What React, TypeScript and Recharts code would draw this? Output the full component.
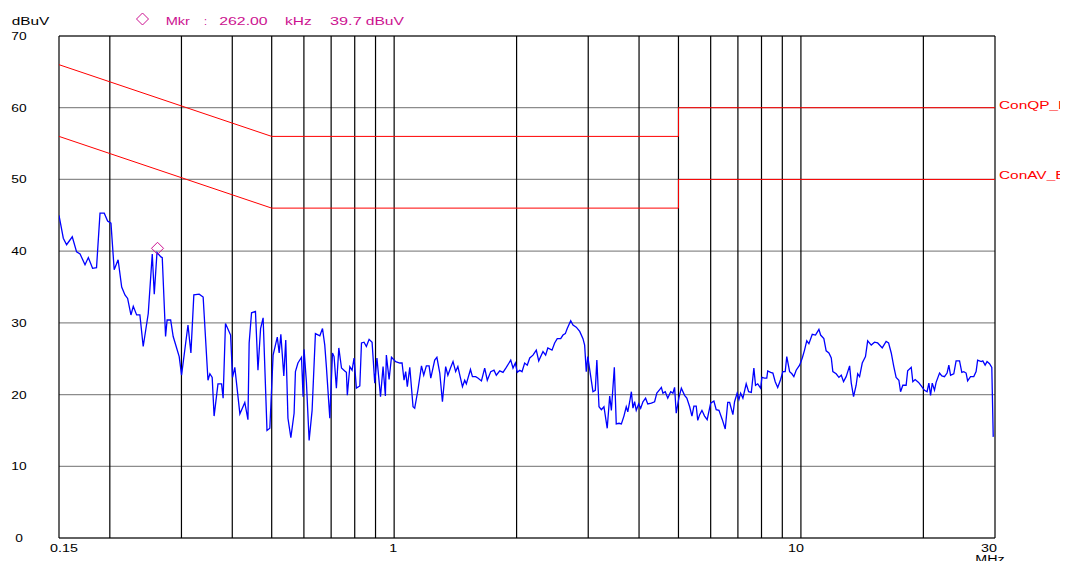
import React from 'react';
import { LineChart, Line, XAxis, YAxis, CartesianGrid, ReferenceLine, ReferenceDot } from 'recharts';

const freqMHz = [
  0.1500, 0.1537, 0.1566, 0.1617, 0.1657, 0.1690, 0.1738, 0.1771, 0.1814, 0.1855,
  0.1892, 0.1938, 0.1975, 0.2013, 0.2050, 0.2096, 0.2139, 0.2179, 0.2212, 0.2254,
  0.2284, 0.2328, 0.2371, 0.2416, 0.2486, 0.2543, 0.2572, 0.2612, 0.2671, 0.2691,
  0.2742, 0.2766, 0.2822, 0.2863, 0.2962, 0.3002, 0.3113, 0.3165, 0.3218, 0.3317,
  0.3392, 0.3486, 0.3524, 0.3570, 0.3609, 0.3689, 0.3765, 0.3798, 0.3849, 0.3962,
  0.4006, 0.4058, 0.4176, 0.4294, 0.4371, 0.4401, 0.4461, 0.4561, 0.4626, 0.4695,
  0.4763, 0.4869, 0.4948, 0.5040, 0.5161, 0.5216, 0.5266, 0.5355, 0.5414, 0.5482,
  0.5573, 0.5676, 0.5719, 0.5801, 0.5919, 0.5972, 0.6005, 0.6085, 0.6180, 0.6285,
  0.6404, 0.6566, 0.6666, 0.6752, 0.6814, 0.6948, 0.7054, 0.7117, 0.7211, 0.7311,
  0.7423, 0.7560, 0.7631, 0.7672, 0.7781, 0.7882, 0.7970, 0.8075, 0.8234, 0.8312,
  0.8433, 0.8545, 0.8679, 0.8826, 0.8960, 0.9072, 0.9257, 0.9392, 0.9516, 0.9569,
  0.9718, 0.9850, 1.0088, 1.0325, 1.0459, 1.0576, 1.0676, 1.0774, 1.0926, 1.1129,
  1.1234, 1.1438, 1.1673, 1.1823, 1.2000, 1.2187, 1.2305, 1.2581, 1.2739, 1.2947,
  1.3144, 1.3386, 1.3554, 1.3756, 1.3956, 1.4166, 1.4343, 1.4720, 1.4909, 1.5047,
  1.5404, 1.5576, 1.5863, 1.6061, 1.6391, 1.6695, 1.6942, 1.7279, 1.7598, 1.7831,
  1.8181, 1.8519, 1.8868, 1.9349, 1.9598, 1.9858, 2.0076, 2.0359, 2.0623, 2.0934,
  2.1244, 2.1545, 2.1946, 2.2359, 2.2670, 2.3223, 2.3572, 2.3867, 2.4438, 2.4807,
  2.5174, 2.5675, 2.6005, 2.6351, 2.6640, 2.7169, 2.7518, 2.8037, 2.8589, 2.9121,
  2.9397, 2.9669, 2.9928, 3.0816, 3.1225, 3.1502, 3.1887, 3.2320, 3.2791, 3.3406,
  3.3878, 3.4201, 3.4778, 3.5158, 3.5708, 3.6192, 3.6720, 3.7205, 3.7529, 3.7937,
  3.8299, 3.8642, 3.9008, 3.9370, 3.9917, 4.0372, 4.0891, 4.1506, 4.2025, 4.2887,
  4.3681, 4.4235, 4.4955, 4.5384, 4.5791, 4.6399, 4.7060, 4.7841, 4.8456, 4.8915,
  4.9369, 5.0141, 5.0822, 5.1763, 5.2419, 5.3272, 5.3961, 5.4564, 5.5285, 5.5767,
  5.6373, 5.7101, 5.7964, 5.8822, 5.9992, 6.1101, 6.1908, 6.2876, 6.4087, 6.5154,
  6.6083, 6.6802, 6.8044, 6.8688, 6.9704, 7.0410, 7.1091, 7.2005, 7.3362, 7.4381,
  7.5519, 7.6620, 7.7341, 7.8308, 7.9608, 8.0183, 8.1395, 8.2426, 8.2867, 8.4243,
  8.5325, 8.6458, 8.7691, 8.9147, 9.0293, 9.1491, 9.2302, 9.3805, 9.5017, 9.6081,
  9.7349, 9.9265, 10.077, 10.207, 10.336, 10.463, 10.664, 10.861, 11.072, 11.179,
  11.386, 11.536, 11.716, 11.875, 11.981, 12.207, 12.398, 12.566, 12.729, 12.918,
  13.173, 13.298, 13.470, 13.670, 13.790, 13.939, 14.151, 14.412, 14.592, 14.891,
  15.167, 15.441, 15.847, 16.199, 16.424, 16.675, 16.918, 17.142, 17.410, 17.578,
  17.804, 18.140, 18.298, 18.673, 18.841, 19.091, 19.463, 19.761, 20.127, 20.425,
  20.631, 20.831, 21.029, 21.298, 21.496, 21.919, 22.203, 22.538, 22.872, 23.102,
  23.326, 23.757, 24.071, 24.545, 24.862, 25.141, 25.473, 25.695, 26.121, 26.604,
  26.956, 27.191, 27.748, 27.997, 28.369, 28.680, 29.086, 29.462, 29.700,
];

const levelDbuv = [
  45.0, 41.8, 40.9, 42.0, 39.9, 39.6, 38.1, 39.1, 37.6, 37.7,
  45.3, 45.3, 44.2, 43.9, 37.4, 38.8, 35.0, 33.9, 33.4, 31.1,
  32.3, 31.1, 31.1, 26.7, 31.3, 39.6, 34.0, 39.8, 39.2, 39.1,
  28.1, 30.4, 30.4, 28.1, 25.3, 22.7, 29.7, 25.8, 33.9, 34.0,
  33.6, 22.0, 22.9, 22.4, 17.0, 21.5, 21.5, 19.5, 29.9, 28.3,
  22.4, 23.8, 17.3, 18.9, 16.5, 27.2, 31.4, 31.6, 23.4, 29.2,
  30.7, 15.0, 15.3, 25.5, 28.0, 25.8, 28.4, 22.6, 27.6, 16.7,
  14.0, 17.4, 23.2, 24.4, 25.2, 19.7, 26.3, 21.8, 13.6, 17.8,
  28.5, 28.2, 29.2, 26.9, 23.9, 16.7, 25.8, 25.3, 20.9, 26.5,
  23.7, 23.3, 23.1, 19.9, 23.9, 23.4, 25.1, 20.9, 21.2, 27.2,
  27.3, 26.7, 27.7, 27.3, 21.6, 25.1, 19.7, 23.9, 19.8, 25.5,
  22.1, 25.2, 24.6, 24.4, 24.4, 22.0, 23.2, 21.1, 23.8, 18.3,
  18.1, 20.6, 24.0, 22.7, 24.0, 24.0, 22.3, 24.8, 25.2, 23.0,
  19.0, 23.9, 22.7, 23.7, 24.6, 23.2, 23.9, 21.1, 22.0, 21.5,
  23.5, 22.5, 22.5, 22.3, 21.9, 23.7, 22.0, 23.2, 23.4, 22.7,
  23.3, 23.1, 23.8, 24.8, 23.7, 24.4, 23.1, 23.4, 23.2, 24.4,
  24.1, 25.1, 25.5, 26.2, 24.7, 26.0, 25.5, 26.5, 26.2, 27.2,
  27.8, 27.8, 28.3, 28.5, 29.2, 30.3, 29.7, 29.4, 28.8, 27.8,
  26.9, 23.2, 25.3, 20.4, 20.6, 24.8, 18.3, 17.9, 18.3, 15.3,
  19.8, 17.8, 23.8, 15.9, 16.0, 15.9, 17.0, 18.3, 17.6, 19.0,
  20.4, 18.1, 19.0, 17.8, 18.7, 18.1, 19.0, 19.5, 18.7, 18.8,
  19.0, 20.2, 20.7, 21.0, 20.2, 20.4, 19.5, 20.4, 20.2, 21.0,
  17.4, 19.6, 20.9, 19.9, 19.5, 18.3, 17.0, 18.4, 18.4, 16.4,
  17.2, 17.8, 17.0, 16.5, 18.8, 19.1, 17.9, 17.8, 16.5, 15.2,
  18.9, 18.9, 17.2, 19.0, 20.2, 19.3, 20.2, 19.5, 21.5, 20.4,
  20.3, 23.7, 21.3, 21.5, 20.9, 22.4, 22.3, 22.3, 23.3, 23.1,
  23.0, 21.8, 21.0, 22.1, 23.2, 23.2, 25.3, 23.2, 22.9, 22.5,
  23.4, 24.1, 25.1, 26.2, 27.5, 27.1, 28.4, 28.3, 29.1, 28.3,
  27.8, 26.1, 25.8, 25.1, 23.2, 22.9, 22.4, 22.7, 21.8, 22.5,
  24.0, 21.6, 19.7, 21.3, 22.9, 22.5, 24.4, 25.3, 27.5, 26.9,
  27.3, 27.2, 26.5, 27.4, 27.2, 25.8, 23.9, 22.4, 22.0, 20.4,
  21.3, 21.3, 23.3, 23.8, 21.8, 22.1, 21.7, 21.2, 20.6, 20.4,
  21.6, 19.9, 21.6, 20.6, 21.7, 23.0, 22.6, 22.5, 23.0, 24.1,
  22.7, 22.9, 24.7, 24.7, 23.1, 23.2, 23.0, 21.9, 22.5, 22.5,
  23.2, 24.8, 24.6, 24.7, 24.1, 24.6, 24.3, 23.8, 14.1,
];

const qpFreq = [0.15, 0.5, 5, 5, 30];
const qpLimit = [66, 56, 56, 60, 60];
const avFreq = [0.15, 0.5, 5, 5, 30];
const avLimit = [56, 46, 46, 50, 50];

const gridFreqs = [0.15, 0.2, 0.3, 0.4, 0.5, 0.6, 0.7, 0.8, 0.9, 1, 2, 3, 4, 5, 6, 7, 8, 9, 10, 20, 30];
const xLabelValues = [0.15, 1, 10, 30];
const xLabelTexts = ['0.15', '1', '10', '30'];
const yTicks = [0, 10, 20, 30, 40, 50, 60, 70];

const markerFreq = 0.262;
const markerLevel = 39.7;
const markerText = ['Mkr', ':', '262.00', 'kHz', '39.7', 'dBuV'];
const limitNames = ['ConQP_B', 'ConAV_B'];
const yUnit = 'dBuV';
const xUnit = 'MHz';

const traceData = freqMHz.map((f, i) => ({ f, v: levelDbuv[i] }));
const qpData = qpFreq.map((f, i) => ({ f, v: qpLimit[i] }));
const avData = avFreq.map((f, i) => ({ f, v: avLimit[i] }));

const W = 1060;
const H = 553;
const FONT = '"Liberation Sans", Arial, Helvetica, sans-serif';
const MAGENTA = '#cc1190';

const xDx: Record<string, number> = { '0.15': 5, '1': -1, '10': -5, '30': -6 };

const XTick = (p: any) => {
  const v = p?.payload?.value;
  const idx = xLabelValues.findIndex((q) => Math.abs(q - v) < 1e-9);
  if (idx < 0) return <g />;
  const t = xLabelTexts[idx];
  return (
    <text
      transform={`translate(${p.x + (xDx[t] || 0)},544) scale(1.3,1)`}
      textAnchor="middle"
      fontSize={11}
      fontFamily={FONT}
      fill="#000"
    >
      {t}
    </text>
  );
};

const YTick = (p: any) => (
  <text
    transform={`translate(11,${p.y + 4}) scale(1.25,1)`}
    textAnchor="middle"
    fontSize={11}
    fontFamily={FONT}
    fill="#000"
  >
    {p?.payload?.value}
  </text>
);

const Diamond = (p: any) => {
  const cx = p.cx;
  const cy = p.cy - 5;
  const s = 6;
  return (
    <polygon
      points={`${cx},${cy - s} ${cx + s},${cy} ${cx},${cy + s} ${cx - s},${cy}`}
      fill="none"
      stroke={MAGENTA}
      strokeWidth={1}
    />
  );
};

const markerTextPos = [
  { x: 157.7, w: 24.3 },
  { x: 196, w: 3 },
  { x: 211.3, w: 48.3 },
  { x: 277, w: 26.7 },
  { x: 322, w: 31.7 },
  { x: 357.7, w: 38.3 },
];

export default function App() {
  return (
    <div style={{ position: 'relative', width: W, height: H, overflow: 'hidden' }}>
      <LineChart width={W} height={H} margin={{ top: 28, right: 73, bottom: 0, left: 0 }}>
        <CartesianGrid horizontal={true} vertical={false} stroke="#8c8c8c" strokeWidth={1.2} />
        <XAxis
          dataKey="f"
          type="number"
          scale="log"
          domain={[0.15, 30]}
          allowDataOverflow
          ticks={gridFreqs}
          interval={0}
          axisLine={false}
          tickLine={false}
          height={23}
          tick={<XTick />}
        />
        <YAxis
          type="number"
          domain={[0, 70]}
          ticks={yTicks}
          interval={0}
          axisLine={false}
          tickLine={false}
          width={51}
          tick={<YTick />}
        />
        {gridFreqs.map((g) => (
          <ReferenceLine key={'g' + g} x={g} stroke="#000" strokeWidth={1.2} />
        ))}
        <ReferenceLine y={70} stroke="#000" strokeWidth={1.2} />
        <ReferenceLine y={0} stroke="#000" strokeWidth={1.2} />
        <Line
          data={qpData}
          dataKey="v"
          type="linear"
          stroke="#ff0000"
          strokeWidth={1}
          dot={false}
          activeDot={false}
          isAnimationActive={false}
        />
        <Line
          data={avData}
          dataKey="v"
          type="linear"
          stroke="#ff0000"
          strokeWidth={1}
          dot={false}
          activeDot={false}
          isAnimationActive={false}
        />
        <Line
          data={traceData}
          dataKey="v"
          type="linear"
          stroke="#0000ff"
          strokeWidth={1.3}
          dot={false}
          activeDot={false}
          isAnimationActive={false}
        />
        <ReferenceDot x={markerFreq} y={markerLevel} r={6} shape={<Diamond />} />
      </LineChart>
      <svg
        width={W}
        height={H}
        style={{ position: 'absolute', left: 0, top: 0, pointerEvents: 'none' }}
        fontFamily={FONT}
        fontSize={11}
      >
        <text x={3.7} y={16.7} textLength={37.6} lengthAdjust="spacingAndGlyphs" fill="#000">
          {yUnit}
        </text>
        <polygon points="134.5,5 140.5,11 134.5,17 128.5,11" fill="none" stroke={MAGENTA} strokeWidth={1} />
        {markerText.map((t, i) => (
          <text
            key={t + i}
            x={markerTextPos[i].x}
            y={16.7}
            textLength={markerTextPos[i].w}
            lengthAdjust="spacingAndGlyphs"
            fill={MAGENTA}
          >
            {t}
          </text>
        ))}
        <text transform="translate(991,101) scale(1.4,1)" fill="#ff0000">
          {limitNames[0]}
        </text>
        <text transform="translate(991,171) scale(1.4,1)" fill="#ff0000">
          {limitNames[1]}
        </text>
        <text transform="translate(982,555) scale(1.3,1)" textAnchor="middle" fill="#000">
          {xUnit}
        </text>
      </svg>
    </div>
  );
}
